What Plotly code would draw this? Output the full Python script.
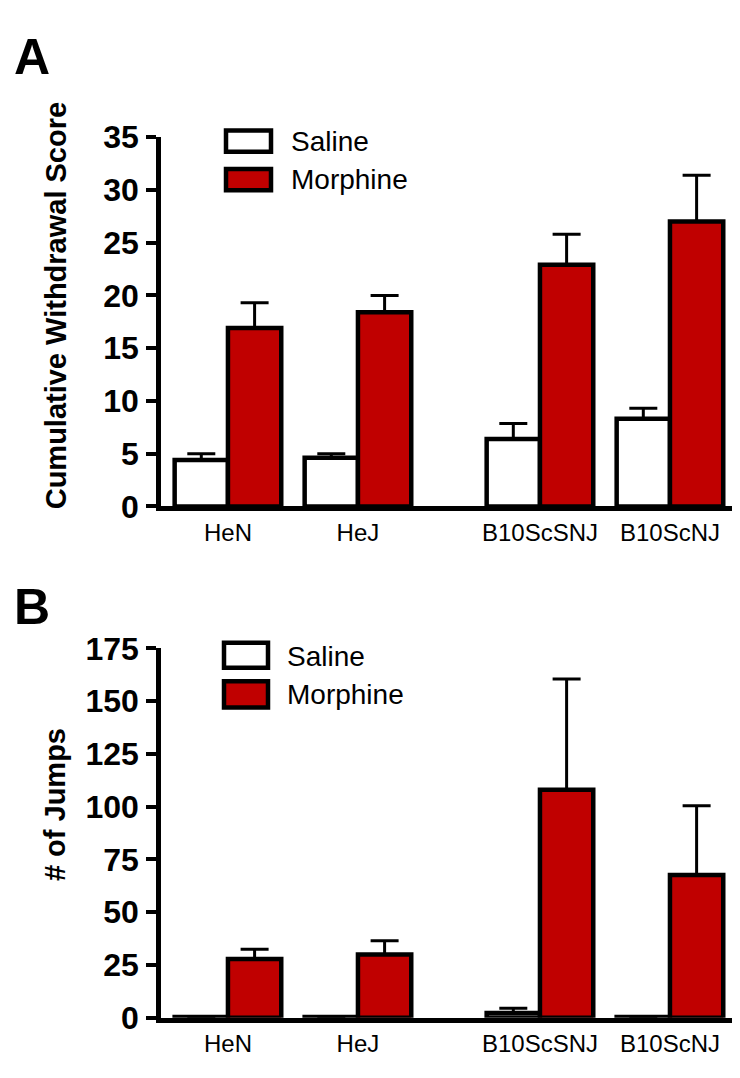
import plotly.graph_objects as go

# ---------------- data ----------------
strains = ["HeN", "HeJ", "B10ScSNJ", "B10ScNJ"]
series_names = ["Saline", "Morphine"]

score_saline = [4.4, 4.6, 6.4, 8.3]
score_saline_sem = [0.6, 0.4, 1.45, 1.0]
score_morphine = [16.9, 18.4, 22.9, 27.0]
score_morphine_sem = [2.4, 1.6, 2.9, 4.4]

jumps_saline = [0.3, 0.3, 2.2, 0.3]
jumps_saline_sem = [0.0, 0.0, 2.3, 0.0]
jumps_morphine = [27.8, 30.0, 108.0, 67.7]
jumps_morphine_sem = [4.6, 6.5, 52.5, 32.8]

score_ticks = [0, 5, 10, 15, 20, 25, 30, 35]
jumps_ticks = [0, 25, 50, 75, 100, 125, 150, 175]

# ---------------- layout constants ----------------
W, H = 740, 1078
group_pos = [0, 1, 2.4, 3.4]
bar_w = 0.41
RED = "#C00000"
FONT = "Liberation Sans, Arial, sans-serif"


def px(x):
    return x / W


def py(y):
    return 1 - y / H


fig = go.Figure()


def add_panel(ys, sems, xa, ya):
    for i, (vals, err) in enumerate(zip(ys, sems)):
        fig.add_trace(go.Bar(
            x=group_pos, y=vals, name=series_names[i],
            offset=-bar_w if i == 0 else 0, width=bar_w,
            marker=dict(color="white" if i == 0 else RED,
                        line=dict(color="black", width=4.5)),
            error_y=dict(type="data", array=err, arrayminus=[0] * len(err),
                         symmetric=False, color="black", thickness=3, width=14),
            xaxis=xa, yaxis=ya, showlegend=False,
        ))


add_panel([score_saline, score_morphine], [score_saline_sem, score_morphine_sem], "x", "y")
add_panel([jumps_saline, jumps_morphine], [jumps_saline_sem, jumps_morphine_sem], "x2", "y2")

xdom = [px(153), px(728)]
xrange = [-0.515, 3.908]

common_x = dict(domain=xdom, range=xrange, showline=True, linewidth=4.5, linecolor="black",
                ticks="", tickvals=group_pos, ticktext=strains, showgrid=False, zeroline=False,
                tickfont=dict(family=FONT, size=24, color="black"), ticklabelstandoff=1)
common_y = dict(showline=True, linewidth=4.5, linecolor="black", ticks="outside", ticklen=10,
                tickwidth=3.5, tickcolor="black", showgrid=False, zeroline=False,
                tickfont=dict(family=FONT, size=32, color="black", weight="bold"),
                ticklabelstandoff=1)

fig.update_layout(
    width=W, height=H, margin=dict(l=0, r=0, t=0, b=0),
    paper_bgcolor="white", plot_bgcolor="white", barmode="overlay",
    xaxis=dict(anchor="y", **common_x),
    yaxis=dict(anchor="x", domain=[py(497), py(115)], range=[0, 35], tickvals=score_ticks, **common_y),
    xaxis2=dict(anchor="y2", **common_x),
    yaxis2=dict(anchor="x2", domain=[py(1026), py(644)], range=[0, 175], tickvals=jumps_ticks, **common_y),
)

# legends drawn as boxes + labels
legend_specs = [
    # (box x0, x1, [(y0, y1) per series], [text y per series], text x)
    (218, 263, [(108, 130), (148, 170)], [120, 159], 283),
    (216, 260, [(638, 664), (678, 705)], [652, 692], 279),
]
for bx0, bx1, boxes, ty, tx in legend_specs:
    for i, name in enumerate(series_names):
        y0, y1 = boxes[i]
        fig.add_shape(type="rect", xref="paper", yref="paper",
                      x0=px(bx0), x1=px(bx1), y0=py(y1), y1=py(y0),
                      fillcolor="white" if i == 0 else RED,
                      line=dict(color="black", width=4.5))
        fig.add_annotation(text=name, xref="paper", yref="paper", x=px(tx - 2), y=py(ty[i]),
                           xanchor="left", yanchor="middle", showarrow=False,
                           font=dict(family=FONT, size=28, color="black"))

# axis titles
fig.add_annotation(text="Cumulative Withdrawal Score", xref="paper", yref="paper",
                   x=px(48), y=py(290), textangle=-90, showarrow=False,
                   xanchor="center", yanchor="middle",
                   font=dict(family=FONT, size=29, color="black", weight="bold"))
fig.add_annotation(text="# of Jumps", xref="paper", yref="paper",
                   x=px(47), y=py(806), textangle=-90, showarrow=False,
                   xanchor="center", yanchor="middle",
                   font=dict(family=FONT, size=29, color="black", weight="bold"))

# panel letters
for letter, ly in [("A", 32), ("B", 601)]:
    fig.add_annotation(text=letter, xref="paper", yref="paper", x=px(4), y=py(ly),
                       xanchor="left", yanchor="middle", showarrow=False,
                       font=dict(family=FONT, size=50, color="black", weight="bold"))

fig.write_html("out.html")
